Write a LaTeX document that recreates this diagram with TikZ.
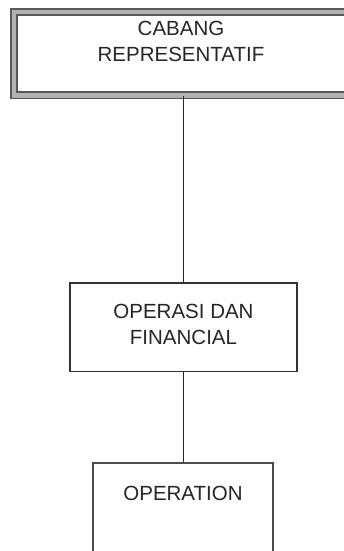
\documentclass[tikz,border=0pt]{standalone}
\usepackage{fontspec}
\setmainfont{Liberation Sans}
\usepackage{tikz}

\begin{document}
\begin{tikzpicture}[x=1pt,y=-1pt,
  unitbox/.style={draw=black!80,line width=1.6pt,fill=white,anchor=north,
    align=center,text=black!85,font=\fontsize{20.5}{26.5}\selectfont},
  headbox/.style={unitbox,draw=black!65,line width=1.8pt,double=black!30,
    double distance=4.6pt},
  link/.style={draw=black!85,line width=1.6pt}]
\useasboundingbox (0,0) rectangle (344,551);
\clip (0,0) rectangle (344,551);

\node[headbox,minimum width=334pt,inner ysep=9pt,text depth=24.5pt] (cabang) at (181,11) {CABANG\\REPRESENTATIF};
\node[unitbox,minimum width=227pt,inner ysep=21pt,text depth=6pt] (opfin) at (183.5,282) {OPERASI DAN\\FINANCIAL};
\node[unitbox,draw=black!70,line width=1.7pt,minimum width=180pt,inner ysep=23pt,text depth=37pt] (oper) at (183,462) {OPERATION};

\draw[link] (cabang.south -| opfin.north) -- (opfin.north);
\draw[link] (opfin.south) -- (opfin.south |- oper.north);
\end{tikzpicture}
\end{document}
